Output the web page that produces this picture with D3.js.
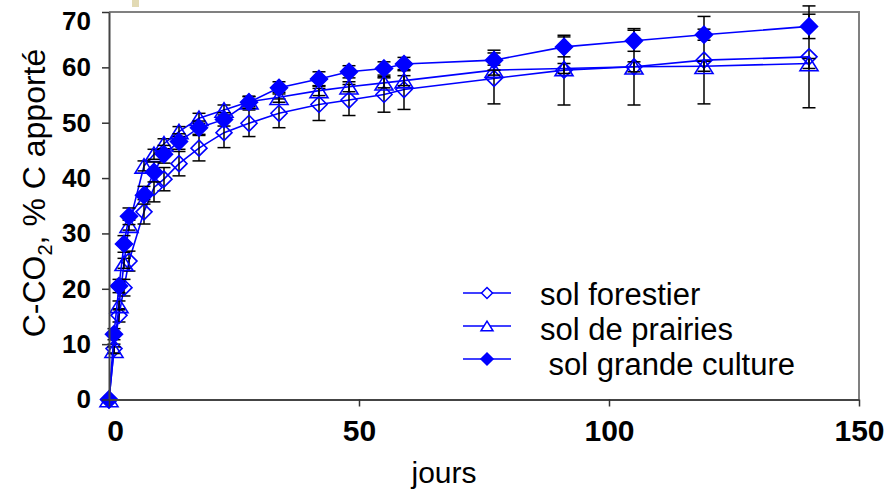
<!DOCTYPE html>
<html>
<head>
<meta charset="utf-8">
<script src="https://cdn.jsdelivr.net/npm/d3@7"></script>
<style>
  body { margin: 0; background: #fff; }
  text { font-family: "Liberation Sans", Arial, sans-serif; }
</style>
</head>
<body>
<svg width="892" height="492"></svg>
<script>
// days of measurement
const days = [0, 1, 2, 3, 4, 7, 9, 11, 14, 18, 23, 28, 34, 42, 48, 55, 59, 77, 91, 105, 119, 140];

// C-CO2, % of added C
const forestier = [0, 9.2, 15.2, 20.2, 25.0, 33.9, 38.3, 39.8, 42.6, 45.4, 48.2, 49.9, 51.7, 53.3, 54.1, 55.1, 56.0, 58.0, 59.5, 60.1, 61.3, 61.9];
const forestierErr = [0, 0.8, 1.2, 1.5, 1.8, 2.2, 2.6, 2.1, 2.2, 2.3, 2.7, 2.4, 2.6, 2.9, 2.8, 3.2, 3.6, 4.6, 6.3, 6.9, 7.9, 9.2];

const prairies = [0, 8.9, 17.0, 24.6, 31.5, 42.2, 44.3, 46.2, 48.4, 50.8, 52.3, 53.8, 54.6, 55.8, 56.5, 57.2, 57.6, 59.5, 59.8, 60.1, 60.2, 60.7];
const prairiesErr = [0, 0.6, 0.8, 0.9, 0.9, 0.9, 0.9, 0.9, 0.9, 0.9, 0.9, 0.9, 0.9, 0.9, 0.9, 0.9, 0.9, 0.9, 0.9, 0.9, 0.9, 0.9];

const grande = [0, 11.8, 20.5, 28.1, 33.1, 36.9, 41.1, 44.3, 46.6, 49.1, 50.6, 53.7, 56.3, 57.9, 59.2, 59.8, 60.6, 61.3, 63.7, 64.8, 65.9, 67.4];
const grandeErr = [0, 1.0, 1.2, 1.5, 1.5, 1.6, 1.8, 1.6, 1.4, 1.2, 1.2, 1.1, 1.1, 1.3, 1.1, 1.2, 1.2, 1.8, 1.8, 1.9, 1.0, 2.2];

const seriesNames = ['sol forestier', 'sol de prairies', ' sol grande culture'];
const xTicks = [0, 50, 100, 150];
const yTicks = [0, 10, 20, 30, 40, 50, 60, 70];

const svg = d3.select('svg');
const blue = '#0000ff';

const x = d3.scaleLinear().domain([0, 150]).range([109, 859]);
const y = d3.scaleLinear().domain([0, 70]).range([399.5, 12]);

// little artefact at the top of the original
svg.append('rect').attr('x', 132).attr('y', 0).attr('width', 7).attr('height', 7).attr('fill', '#e2dab4');

// frame top / right
svg.append('path')
  .attr('d', `M${x(0)},${y(70)}H${x(150)}V${y(0)}`)
  .attr('fill', 'none').attr('stroke', '#808080').attr('stroke-width', 2);

// markers
const diamond = s => `M0,${-s}L${s},0L0,${s}L${-s},0Z`;
const triangle = s => `M0,${-s * 0.8}L${s},${s * 0.8}L${-s},${s * 0.8}Z`;

const series = [
  { name: seriesNames[0], values: forestier, err: forestierErr, shape: diamond(8), small: diamond(5.5), fill: 'none' },
  { name: seriesNames[1], values: prairies, err: prairiesErr, shape: triangle(9), small: triangle(6), fill: 'none' },
  { name: seriesNames[2], values: grande, err: grandeErr, shape: diamond(8.5), small: diamond(6), fill: blue }
];

const line = d3.line().x(d => x(d[0])).y(d => y(d[1]));

series.forEach(s => {
  const pts = days.map((d, i) => [d, s.values[i], s.err[i]]);
  const g = svg.append('g');

  g.append('path')
    .attr('d', line(pts))
    .attr('fill', 'none')
    .attr('stroke', blue)
    .attr('stroke-width', 1.6);

  // error bars
  const eb = g.selectAll('.eb').data(pts.filter(p => p[2] > 0)).enter().append('g');
  eb.append('line')
    .attr('x1', d => x(d[0])).attr('x2', d => x(d[0]))
    .attr('y1', d => y(d[1] - d[2])).attr('y2', d => y(d[1] + d[2]))
    .attr('stroke', '#000').attr('stroke-width', 1.5);
  [-1, 1].forEach(k => {
    eb.append('line')
      .attr('x1', d => x(d[0]) - 6.5).attr('x2', d => x(d[0]) + 6.5)
      .attr('y1', d => y(d[1] + k * d[2])).attr('y2', d => y(d[1] + k * d[2]))
      .attr('stroke', '#000').attr('stroke-width', 1.5);
  });

  g.selectAll('.m').data(pts).enter().append('path')
    .attr('transform', d => `translate(${x(d[0])},${y(d[1])})`)
    .attr('d', s.shape)
    .attr('fill', s.fill)
    .attr('stroke', blue)
    .attr('stroke-width', 1.6);
});

// axes
const yAxis = svg.append('g')
  .attr('transform', `translate(${x(0)},0)`)
  .call(d3.axisLeft(y).tickValues(yTicks).tickSize(7).tickPadding(11).tickSizeOuter(0));
yAxis.select('.domain').attr('stroke', '#444').attr('stroke-width', 2);
yAxis.selectAll('.tick line').attr('stroke', '#333').attr('stroke-width', 1.5);
yAxis.selectAll('.tick text')
  .attr('font-size', 26).attr('font-weight', 'bold').attr('fill', '#000')
  .attr('dy', d => d === 70 ? '0.68em' : '0.32em')
  .style('font-family', '"Liberation Sans", Arial, sans-serif');

const xAxis = svg.append('g')
  .attr('transform', `translate(0,${y(0)})`)
  .call(d3.axisBottom(x).tickValues(xTicks).tickSize(7).tickPadding(13).tickSizeOuter(0));
xAxis.select('.domain').attr('stroke', '#444').attr('stroke-width', 2);
xAxis.selectAll('.tick line').attr('stroke', '#333').attr('stroke-width', 1.5);
xAxis.selectAll('.tick text')
  .attr('font-size', 30).attr('font-weight', 'bold').attr('fill', '#000')
  .attr('dx', d => d === 0 ? 6 : 0)
  .style('font-family', '"Liberation Sans", Arial, sans-serif');

// axis titles
const yl = svg.append('text')
  .attr('transform', 'translate(45,193) rotate(-90)')
  .attr('text-anchor', 'middle')
  .attr('font-size', 32)
  .attr('fill', '#000');
yl.append('tspan').text('C-CO');
yl.append('tspan').text('2').attr('font-size', 20).attr('dy', 7);
yl.append('tspan').text(', % C apporté').attr('dy', -7);

svg.append('text')
  .attr('x', 444).attr('y', 483)
  .attr('text-anchor', 'middle')
  .attr('font-size', 30)
  .attr('fill', '#000')
  .text('jours');

// legend
const legendY = [293, 326, 359];
const legendTextY = [305, 340, 375];
const lg = svg.append('g').selectAll('g').data(series).enter().append('g');
lg.append('line')
  .attr('x1', 463).attr('x2', 511)
  .attr('y1', (d, i) => legendY[i]).attr('y2', (d, i) => legendY[i])
  .attr('stroke', blue).attr('stroke-width', 1.6);
lg.append('path')
  .attr('transform', (d, i) => `translate(487,${legendY[i]})`)
  .attr('d', d => d.small)
  .attr('fill', d => d.fill === 'none' ? '#fff' : d.fill)
  .attr('stroke', blue).attr('stroke-width', 1.5);
lg.append('text')
  .attr('x', 540).attr('y', (d, i) => legendTextY[i])
  .attr('font-size', 31)
  .attr('fill', '#000')
  .style('white-space', 'pre')
  .text(d => d.name);
</script>
</body>
</html>
